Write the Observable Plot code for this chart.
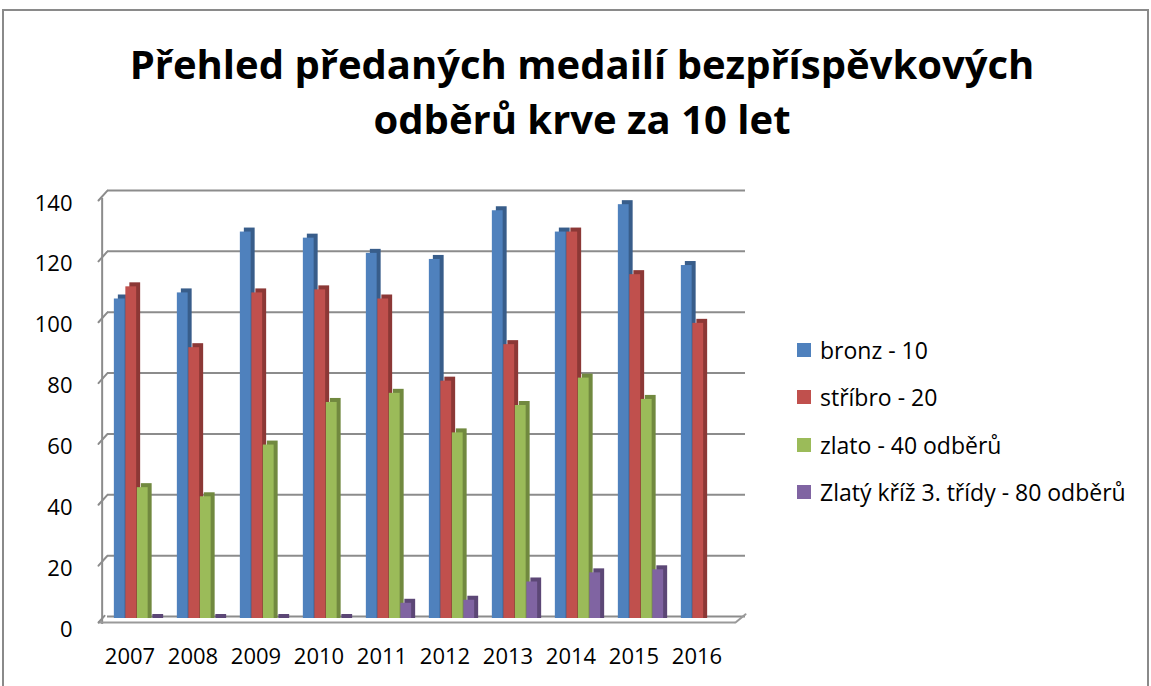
<!DOCTYPE html>
<html>
<head>
<meta charset="utf-8">
<script src="https://cdn.jsdelivr.net/npm/d3@7"></script>
<script src="https://cdn.jsdelivr.net/npm/@observablehq/plot@0.6"></script>
<style>
  html, body { margin: 0; padding: 0; background: #fff; }
  #wrap { position: relative; width: 1151px; height: 686px; overflow: hidden; font-family: "Open Sans", Lato, sans-serif; }
  #frame { position: absolute; left: 2px; top: 9px; width: 1147px; height: 700px; border: 2px solid #8a8a8a; box-sizing: border-box; }
  #title { position: absolute; left: 0; width: 1164px; top: 36px; text-align: center; font-weight: bold; font-size: 40px; line-height: 55px; color: #000; }
  #chart { position: absolute; left: 0; top: 0; }
  #legend { position: absolute; left: 797px; top: 335px; font-size: 23px; color: #000; }
  #legend .item { display: flex; align-items: center; height: 30px; margin-bottom: 17.3px; white-space: nowrap; }
  #legend .sw { width: 14px; height: 14px; margin-right: 9px; flex: none; }
</style>
</head>
<body>
<div id="wrap">
  <div id="frame"></div>
  <div id="title">Přehled předaných medailí bezpříspěvkových<br>odběrů krve za 10 let</div>
  <div id="chart"></div>
  <div id="legend"></div>
</div>
<script>
const years = ["2007","2008","2009","2010","2011","2012","2013","2014","2015","2016"];
const seriesNames = ["bronz - 10", "stříbro - 20", "zlato - 40 odběrů", "Zlatý kříž 3. třídy - 80 odběrů"];
const bronz   = [105, 107, 127, 125, 120, 118, 134, 127, 136, 116];
const stribro = [109,  89, 107, 108, 105,  78,  90, 127, 113,  97];
const zlato   = [ 43,  40,  57,  71,  74,  61,  70,  79,  72, null];
const kriz    = [  0,   0,   0,   0,   5,   6,  12,  15,  16, null];
const yTicks  = [0, 20, 40, 60, 80, 100, 120, 140];

const frontColors = ["#4F81BD", "#C0504D", "#9BBB59", "#8064A2"];
const sideColors  = ["#385D8A", "#8C3836", "#71893F", "#5C4776"];

const seriesValues = [bronz, stribro, zlato, kriz];

const W = 1151, H = 686;
const mL = 101, mR = 413, mT = 192, mB = 68;
const bw = (W - mL - mR) / years.length;
const barW = 11.5;
const pad0 = (bw - 4 * barW) / 2;
const depth = 4;

const lineShape = {draw(context, l) { context.moveTo(0, 0); context.lineTo(0, -l); }};
const gridColor = "#8c8c8c";

const marks = [
  // back-wall gridlines
  Plot.ruleY(yTicks, {y: d => d, stroke: gridColor, strokeWidth: 2, dy: -2, insetLeft: 6, insetRight: -7}),
  // left diagonal connectors (3D depth)
  Plot.vector(yTicks.filter(d => d > 0), {y: d => d, frameAnchor: "left", dx: -3, dy: 8, length: 13, rotate: 42, anchor: "start", shape: lineShape, stroke: gridColor, strokeWidth: 2}),
  // front-left vertical edge
  Plot.ruleX([0], {x: () => years[0], stroke: gridColor, strokeWidth: 2, dx: -bw / 2 - 3, y1: 0, y2: 140, dy: 6}),
  // front floor edge
  Plot.ruleY([0], {stroke: "#9a9a9a", strokeWidth: 2, dy: 4, insetLeft: -3, insetRight: 3}),
  Plot.vector([0], {y: d => d, frameAnchor: "right", dx: -3, dy: 4, length: 13, rotate: 51, anchor: "start", shape: lineShape, stroke: "#9a9a9a", strokeWidth: 2}),
  Plot.vector([0], {y: d => d, frameAnchor: "left", dx: -3, dy: 4, length: 9, rotate: 42, anchor: "start", shape: lineShape, stroke: gridColor, strokeWidth: 2})
];

seriesValues.forEach((vals, i) => {
  const data = years.map((year, j) => ({year, value: vals[j]})).filter(d => d.value != null);
  const insetLeft = pad0 + i * barW;
  const insetRight = bw - insetLeft - barW;
  marks.push(Plot.barY(data, {x: "year", y1: 0, y2: "value", fill: sideColors[i], insetLeft, insetRight, insetBottom: -depth, dx: depth, dy: -depth}));
  marks.push(Plot.barY(data, {x: "year", y1: 0, y2: "value", fill: frontColors[i], insetLeft, insetRight}));
});

const chart = Plot.plot({
  width: W,
  height: H,
  marginLeft: mL,
  marginRight: mR,
  marginTop: mT,
  marginBottom: mB,
  style: {fontFamily: "'Open Sans', Lato, sans-serif", fontSize: "22px", color: "#000", background: "transparent"},
  x: {domain: years, padding: 0, tickSize: 0, tickPadding: 30, label: null},
  y: {domain: [0, 140], ticks: yTicks, tickSize: 0, tickPadding: 29, label: null},
  marks
});
document.getElementById("chart").appendChild(chart);

// nudge axis labels to emulate 3D front-edge placement
chart.querySelectorAll("g[aria-label='y-axis tick label'] text, g[aria-label='y-axis'] text").forEach(t => t.setAttribute("dy", "0.5em"));
chart.querySelectorAll("g[aria-label='x-axis tick label'] text, g[aria-label='x-axis'] text").forEach(t => t.setAttribute("dx", "-7"));

const legend = document.getElementById("legend");
seriesNames.forEach((name, i) => {
  const item = document.createElement("div");
  item.className = "item";
  const sw = document.createElement("span");
  sw.className = "sw";
  sw.style.background = frontColors[i];
  const tx = document.createElement("span");
  tx.textContent = name;
  item.appendChild(sw); item.appendChild(tx);
  legend.appendChild(item);
});
</script>
</body>
</html>
